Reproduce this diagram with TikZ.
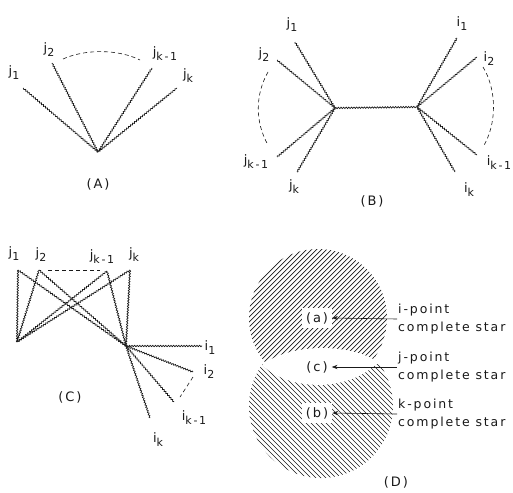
\documentclass[tikz,border=0pt]{standalone}
\usepackage{fontspec}
\setmainfont{DejaVu Sans}[LetterSpace=15]
\usepackage{xcolor}
\definecolor{inkblack}{RGB}{25, 25, 25}
\usepackage{tikz}
\usetikzlibrary{arrows.meta, decorations.pathmorphing}
\newcommand{\lab}[2]{#1\raisebox{-0.55ex}{\fontsize{11}{11}\selectfont #2}}

\begin{document}
\begin{tikzpicture}[x=1pt, y=-1pt, >=Stealth, draw=inkblack, text=inkblack,
    wavy/.style={decorate, decoration={snake, amplitude=0.7pt, segment length=2.6pt}, line width=0.7pt},
    gap/.style={dash pattern=on 4pt off 3pt, line width=0.6pt},
    tag/.style={font=\fontsize{13}{13}\selectfont, inner sep=1pt},
    note/.style={font=\fontsize{12.5}{18}\selectfont, align=left, anchor=west, inner sep=1pt},
    hole/.style={fill=white, inner sep=4pt, font=\fontsize{13}{13}\selectfont},
    hatch/.style={line width=0.7pt}]
    \useasboundingbox (0,0) rectangle (513,492);

    % (A)
    \coordinate (A0) at (98,152);
    \coordinate (Aj1) at (23,88);
    \coordinate (Aj2) at (52,63);
    \coordinate (Ajk1) at (152,68);
    \coordinate (Ajk) at (177,88);
    \draw[wavy] (A0) -- (Aj1);
    \draw[wavy] (A0) -- (Aj2);
    \draw[wavy] (A0) -- (Ajk1);
    \draw[wavy] (A0) -- (Ajk);
    \coordinate (Aa1) at (63,59);
    \coordinate (Aa2) at (140,60);
    \draw[gap] (Aa1) .. controls (85,49) and (118,49) .. (Aa2);
    \node[tag] (LAj1) at (14,73) {\lab{j}{1}};
    \node[tag] (LAj2) at (49,50) {\lab{j}{2}};
    \node[tag] (LAjk1) at (165,54) {\lab{j}{k-1}};
    \node[tag] (LAjk) at (188,76) {\lab{j}{k}};
    \node[tag] (capA) at (98,184) {(A)};

    % (B)
    \coordinate (BL) at (335,108);
    \coordinate (BR) at (417,107);
    \coordinate (Bj1) at (295,42);
    \coordinate (Bj2) at (277,60);
    \coordinate (Bjk1) at (277,157);
    \coordinate (Bjk) at (297,172);
    \coordinate (Bi1) at (457,38);
    \coordinate (Bi2) at (477,57);
    \coordinate (Bik1) at (477,155);
    \coordinate (Bik) at (455,172);
    \draw[wavy] (BL) -- (BR);
    \foreach \e in {Bj1,Bj2,Bjk1,Bjk}
        \draw[wavy] (BL) -- (\e);
    \foreach \e in {Bi1,Bi2,Bik1,Bik}
        \draw[wavy] (BR) -- (\e);
    \coordinate (Ba1) at (268,72);
    \coordinate (Ba2) at (268,145);
    \coordinate (Ba3) at (483,67);
    \coordinate (Ba4) at (483,147);
    \draw[gap] (Ba1) .. controls (255,95) and (255,122) .. (Ba2);
    \draw[gap] (Ba3) .. controls (497,90) and (497,124) .. (Ba4);
    \node[tag] (LBj1) at (292,25) {\lab{j}{1}};
    \node[tag] (LBj2) at (264,55) {\lab{j}{2}};
    \node[tag] (LBjk1) at (256,162) {\lab{j}{k-1}};
    \node[tag] (LBjk) at (294,187) {\lab{j}{k}};
    \node[tag] (LBi1) at (462,24) {\lab{i}{1}};
    \node[tag] (LBi2) at (489,59) {\lab{i}{2}};
    \node[tag] (LBik1) at (499,163) {\lab{i}{k-1}};
    \node[tag] (LBik) at (469,190) {\lab{i}{k}};
    \node[tag] (capB) at (372,201) {(B)};

    % (C)
    \coordinate (CL) at (17,342);
    \coordinate (CR) at (126,346);
    \coordinate (Cj1) at (18,270);
    \coordinate (Cj2) at (39,270);
    \coordinate (Cjk1) at (107,271);
    \coordinate (Cjk) at (130,270);
    \coordinate (Ci1) at (202,346);
    \coordinate (Ci2) at (193,372);
    \coordinate (Cik1) at (174,402);
    \coordinate (Cik) at (150,418);
    \foreach \e in {Cj1,Cj2,Cjk1,Cjk} {
        \draw[wavy] (CL) -- (\e);
        \draw[wavy] (CR) -- (\e);
    }
    \foreach \e in {Ci1,Ci2,Cik1,Cik}
        \draw[wavy] (CR) -- (\e);
    \coordinate (Ca1) at (48,270);
    \coordinate (Ca2) at (100,270);
    \coordinate (Ca3) at (193,377);
    \coordinate (Ca4) at (180,397);
    \draw[gap] (Ca1) -- (Ca2);
    \draw[gap] (Ca3) -- (Ca4);
    \node[tag] (LCj1) at (14,254) {\lab{j}{1}};
    \node[tag] (LCj2) at (41,255) {\lab{j}{2}};
    \node[tag] (LCjk1) at (102,257) {\lab{j}{k-1}};
    \node[tag] (LCjk) at (134,255) {\lab{j}{k}};
    \node[tag] (LCi1) at (210,348) {\lab{i}{1}};
    \node[tag] (LCi2) at (209,372) {\lab{i}{2}};
    \node[tag] (LCik1) at (194,418) {\lab{i}{k-1}};
    \node[tag] (LCik) at (158,440) {\lab{i}{k}};
    \node[tag] (capC) at (70,397) {(C)};

    % (D)
    \coordinate (Dup) at (318,318);
    \coordinate (Dlo) at (321,406);
    \begin{scope}
        \clip (240,240) rectangle (400,364);
        \clip (Dup) circle (69);
        \foreach \t in {-140,-135,...,140}
            \draw[hatch] (318+\t-70,388) -- (318+\t+70,248);
    \end{scope}
    \begin{scope}
        \clip (240,364) rectangle (400,490);
        \clip (Dlo) circle (72);
        \foreach \t in {-145,-140,...,145}
            \draw[hatch] (321+\t-75,333) -- (321+\t+75,483);
    \end{scope}
    \fill[white] (262,365) .. controls (290,343) and (350,343) .. (378,362)
        .. controls (350,392) and (290,392) .. cycle;
    \node[hole] (Da) at (317,318) {(a)};
    \node[hole] (Dc) at (317,367) {(c)};
    \node[hole] (Db) at (317,413) {(b)};
    \node[note] (Ta) at (397,319) {i-point\\complete star};
    \node[note] (Tc) at (397,367) {j-point\\complete star};
    \node[note] (Tb) at (397,414) {k-point\\complete star};
    \draw[<-, line width=0.6pt] (Da.east) -- (Ta.west);
    \draw[<-, line width=0.6pt] (Dc.east) -- (Tc.west);
    \draw[<-, line width=0.6pt] (Db.east) -- (Tb.west);
    \node[tag] (capD) at (396,482) {(D)};
\end{tikzpicture}
\end{document}
